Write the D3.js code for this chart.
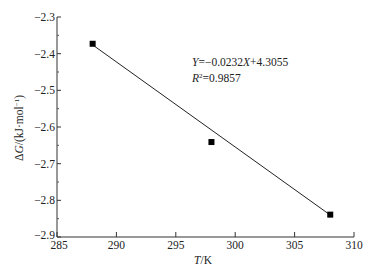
<!DOCTYPE html>
<html>
<head>
<meta charset="utf-8">
<script src="https://cdn.jsdelivr.net/npm/d3@7"></script>
<style>
  body { margin: 0; background: #fff; }
  svg text { font-family: "Liberation Serif", "Times New Roman", serif; fill: #222; }
</style>
</head>
<body>
<div id="chart"></div>
<script>
// measured points
const temps = [288, 298, 308];
const dG = [-2.373, -2.641, -2.839];

// fitted line end points
const fitT = [288, 308];
const fitG = [-2.3761, -2.8401];

const xTicks = [285, 290, 295, 300, 305, 310];
const yTicks = [-2.3, -2.4, -2.5, -2.6, -2.7, -2.8, -2.9];
const yMinor = [-2.35, -2.45, -2.55, -2.65, -2.75, -2.85];

const svg = d3.select("#chart")
    .append("svg")
    .attr("width", 380)
    .attr("height", 271);

const x = d3.scaleLinear().domain([285, 310]).range([57, 354]);
const y = d3.scaleLinear().domain([-2.9, -2.3]).range([237, 17]);

const fmt = d => d.toString().replace("-", "\u2212");

// y axis
svg.append("line")
    .attr("x1", 57).attr("x2", 57)
    .attr("y1", y(-2.3)).attr("y2", y(-2.9))
    .attr("stroke", "#333").attr("stroke-width", 1);

yTicks.forEach(t => {
    svg.append("line")
        .attr("x1", 57).attr("x2", 61)
        .attr("y1", y(t)).attr("y2", y(t))
        .attr("stroke", "#333");
    svg.append("text")
        .attr("x", 55)
        .attr("y", y(t))
        .attr("dy", t === -2.9 ? ".2em" : ".35em")
        .attr("text-anchor", "end")
        .attr("font-size", "11.5px")
        .text(fmt(t));
});

yMinor.forEach(t => {
    svg.append("line")
        .attr("x1", 57).attr("x2", 59)
        .attr("y1", y(t)).attr("y2", y(t))
        .attr("stroke", "#555");
});

// x axis
svg.append("line")
    .attr("x1", x(285)).attr("x2", x(310))
    .attr("y1", 237).attr("y2", 237)
    .attr("stroke", "#333").attr("stroke-width", 1);

xTicks.forEach(t => {
    svg.append("line")
        .attr("x1", x(t)).attr("x2", x(t))
        .attr("y1", 237).attr("y2", 232)
        .attr("stroke", "#333");
    svg.append("text")
        .attr("x", x(t) + (t === 285 ? 2 : 0))
        .attr("y", 249)
        .attr("text-anchor", "middle")
        .attr("font-size", "11.5px")
        .text(t);
});

// axis titles
const xt = svg.append("text")
    .attr("x", 203)
    .attr("y", 264)
    .attr("text-anchor", "middle")
    .attr("font-size", "11.5px");
xt.append("tspan").attr("font-style", "italic").text("T");
xt.append("tspan").text("/K");

const yt = svg.append("text")
    .attr("transform", "translate(23,128) rotate(-90)")
    .attr("text-anchor", "middle")
    .attr("font-size", "11.5px");
yt.append("tspan").text("\u0394");
yt.append("tspan").attr("font-style", "italic").text("G");
yt.append("tspan").text("/(kJ\u00b7mol");
yt.append("tspan").attr("font-size", "7px").attr("dy", "-4").text("\u22121");
yt.append("tspan").attr("dy", "4").text(")");

// fit line
svg.append("line")
    .attr("x1", x(fitT[0])).attr("y1", y(fitG[0]))
    .attr("x2", x(fitT[1])).attr("y2", y(fitG[1]))
    .attr("stroke", "#222").attr("stroke-width", 1);

// points
svg.selectAll("rect.pt")
    .data(temps)
    .enter().append("rect")
    .attr("class", "pt")
    .attr("x", (d, i) => x(d) - 3)
    .attr("y", (d, i) => y(dG[i]) - 3)
    .attr("width", 6)
    .attr("height", 6)
    .attr("fill", "#000");

// equation
const eq = svg.append("text")
    .attr("x", 192)
    .attr("y", 66)
    .attr("font-size", "11.5px");
eq.append("tspan").attr("font-style", "italic").text("Y");
eq.append("tspan").text("=\u22120.0232");
eq.append("tspan").attr("font-style", "italic").text("X");
eq.append("tspan").text("+4.3055");

const r2 = svg.append("text")
    .attr("x", 192)
    .attr("y", 82)
    .attr("font-size", "11.5px");
r2.append("tspan").attr("font-style", "italic").text("R");
r2.append("tspan").attr("font-size", "7px").attr("dy", "-4").text("2");
r2.append("tspan").attr("dy", "4").text("=0.9857");
</script>
</body>
</html>
